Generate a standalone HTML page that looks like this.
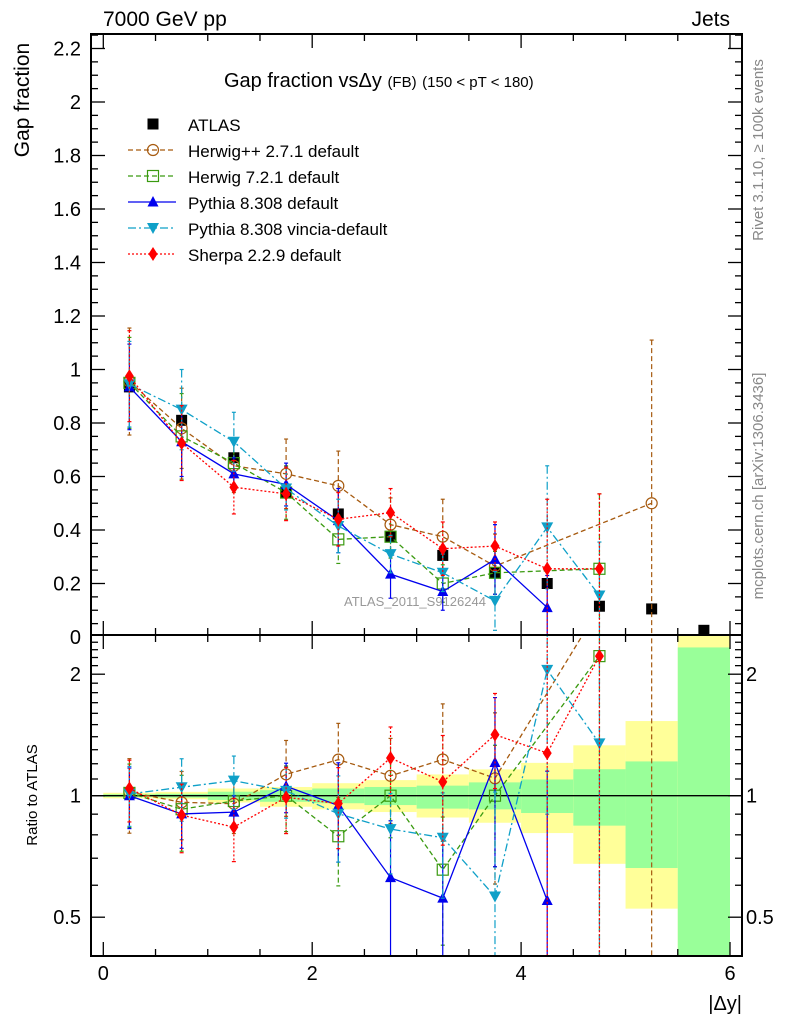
<!DOCTYPE html>
<html><head><meta charset="utf-8"><style>
html,body{margin:0;padding:0;background:#fff;width:786px;height:1024px;overflow:hidden;position:relative;}
svg{display:block;font-family:"Liberation Sans",sans-serif;}
</style></head><body>
<svg id="c" width="786" height="1024" viewBox="0 0 786 1024" style="position:absolute;left:0;top:0"></svg>
<script>
const bins=[0.25,0.75,1.25,1.75,2.25,2.75,3.25,3.75,4.25,4.75,5.25,5.75];
const atlasVals=[0.935,0.81,0.67,0.54,0.46,0.375,0.305,0.24,0.2,0.115,0.105,0.025];
const bandYelHi=[1.017,1.022,1.042,1.051,1.074,1.093,1.129,1.162,1.206,1.333,1.531,2.7];
const bandYelLo=[0.985,0.980,0.962,0.939,0.925,0.911,0.883,0.857,0.808,0.678,0.525,0.2];
const bandGrnHi=[1.008,1.011,1.023,1.032,1.042,1.051,1.059,1.079,1.097,1.163,1.216,2.33];
const bandGrnLo=[0.993,0.989,0.976,0.966,0.958,0.948,0.929,0.925,0.906,0.843,0.662,0.2];
const hwppVals=[0.955,0.78,0.64,0.61,0.565,0.42,0.375,0.265,null,null,0.5];
const hwppErr=[0.2,0.15,0.1,0.13,0.13,0.1,0.14,0.12,0,0,0.61];
const hw7Vals=[0.95,0.75,0.65,0.54,0.365,0.375,0.2,0.24,null,0.255];
const hw7Err=[0.17,0.16,0.08,0.1,0.09,0.08,0.07,0.08,0,0.28];
const py8Vals=[0.935,0.73,0.61,0.57,0.435,0.235,0.17,0.29,0.11];
const py8Err=[0.16,0.13,0.06,0.08,0.12,0.09,0.07,0.13,0.12];
const vinVals=[0.945,0.85,0.73,0.555,0.415,0.31,0.24,0.135,0.41,0.155];
const vinErr=[0.16,0.15,0.11,0.08,0.1,0.07,0.07,0.11,0.23,0.2];
const shVals=[0.975,0.725,0.56,0.535,0.44,0.465,0.33,0.34,0.255,0.255];
const shErr=[0.17,0.14,0.1,0.1,0.1,0.09,0.1,0.09,0.26,0.28];
const yTicks=[0,0.2,0.4,0.6,0.8,1,1.2,1.4,1.6,1.8,2,2.2];
const xTicks=[0,2,4,6];
const rTicks=[0.5,1,2];

const NS="http://www.w3.org/2000/svg";
const svg=document.getElementById('c');
const L=91,R=742,T=34,MID=635,B=956;
const X=v=>103.3+104.45*v;
const Y=v=>637-267.5*v;
const RY=r=>795.7-121.5*Math.log2(r);
function el(t,a,p){const e=document.createElementNS(NS,t);for(const k in a)e.setAttribute(k,a[k]);(p||svg).appendChild(e);return e;}
function txt(s,a,p){const e=el('text',a,p);e.textContent=s;return e;}

const defs=el('defs',{});
const cp1=el('clipPath',{id:'c1'},defs);el('rect',{x:L,y:T,width:R-L,height:MID-T},cp1);
const cp2=el('clipPath',{id:'c2'},defs);el('rect',{x:L,y:MID,width:R-L,height:B-MID},cp2);

const gBand=el('g',{'clip-path':'url(#c2)'});


bins.forEach((b,i)=>{
  const r1=el('rect',{x:X(b-0.25),width:X(0.5)-X(0),y:RY(bandYelHi[i]),height:RY(bandYelLo[i])-RY(bandYelHi[i]),fill:'#ffff99'},gBand);
  
  
  const r2=el('rect',{x:X(b-0.25),width:X(0.5)-X(0),y:RY(bandGrnHi[i]),height:RY(bandGrnLo[i])-RY(bandGrnHi[i]),fill:'#99ff99'},gBand);
  
  
});
el('line',{x1:L,x2:R,y1:RY(1),y2:RY(1),stroke:'#000','stroke-width':1.3});

function marker(g,type,x,y,col){
  const s=5.5;
  if(type==='circle')return el('circle',{cx:x,cy:y,r:s,fill:'none',stroke:col,'stroke-width':1.2},g);
  if(type==='square')return el('rect',{x:x-s,y:y-s,width:2*s,height:2*s,fill:'none',stroke:col,'stroke-width':1.2},g);
  if(type==='up')return el('polygon',{points:`${x},${y-6} ${x-5.5},${y+4.5} ${x+5.5},${y+4.5}`,fill:col},g);
  if(type==='down')return el('polygon',{points:`${x},${y+6} ${x-6},${y-5} ${x+6},${y-5}`,fill:col},g);
  if(type==='diamond')return el('polygon',{points:`${x},${y-7} ${x-4.5},${y} ${x},${y+7} ${x+4.5},${y}`,fill:col},g);
  if(type==='fsquare')return el('rect',{x:x-5.5,y:y-5.5,width:11,height:11,fill:col},g);
}
const series=[
 {name:'herwigpp',vals:hwppVals,err:hwppErr,col:'#a65a0f',dash:'5,3',m:'circle',label:'Herwig++ 2.7.1 default'},
 {name:'herwig7',vals:hw7Vals,err:hw7Err,col:'#3a9a10',dash:'5,3',m:'square',label:'Herwig 7.2.1 default'},
 {name:'pythia8',vals:py8Vals,err:py8Err,col:'#0000ee',dash:'',m:'up',label:'Pythia 8.308 default'},
 {name:'vincia',vals:vinVals,err:vinErr,col:'#0fa0c8',dash:'8,3,2,3',m:'down',label:'Pythia 8.308 vincia-default'},
 {name:'sherpa',vals:shVals,err:shErr,col:'#ff0000',dash:'2,2',m:'diamond',label:'Sherpa 2.2.9 default'}
];
function drawSeries(s,ratio){
  const g=el('g',{'clip-path':ratio?'url(#c2)':'url(#c1)'});
  
  
  const yf=ratio?(v,i)=>RY(v/atlasVals[i]):(v)=>Y(v);
  const pts=[];
  s.vals.forEach((v,i)=>{if(v!==null)pts.push([X(bins[i]),yf(v,i)]);});
  el('polyline',{points:pts.map(p=>p.join(',')).join(' '),fill:'none',stroke:s.col,'stroke-width':1.3,'stroke-dasharray':s.dash},g);
  s.vals.forEach((v,i)=>{
    if(v===null)return;
    const hi=v+s.err[i],lo=Math.max(v-s.err[i],0.001);
    const x=X(bins[i]);
    const y1=yf(hi,i),y2=yf(lo,i);
    el('line',{x1:x,x2:x,y1:y1,y2:y2,stroke:s.col,'stroke-width':1.2,'stroke-dasharray':s.dash},g);
    el('line',{x1:x-2,x2:x+2,y1:y1,y2:y1,stroke:s.col,'stroke-width':1.2},g);
    el('line',{x1:x-2,x2:x+2,y1:y2,y2:y2,stroke:s.col,'stroke-width':1.2},g);
    const mk=marker(g,s.m,x,yf(v,i),s.col);
    
    
  });
}
const ga=el('g',{'clip-path':'url(#c1)'});


atlasVals.forEach((v,i)=>{
  const mk=marker(ga,'fsquare',X(bins[i]),Y(v),'#000');
  
  
});
series.forEach(s=>drawSeries(s,false));
series.forEach(s=>drawSeries(s,true));

el('rect',{x:L,y:T,width:R-L,height:MID-T,fill:'none',stroke:'#000','stroke-width':2});
el('rect',{x:L,y:MID,width:R-L,height:B-MID,fill:'none',stroke:'#000','stroke-width':2});

for(let k=0;k<=45;k++){
  const v=k*0.05;const y=Y(v);if(y<T||y>MID)continue;
  const major=(k%4===0);const len=major?14:7;
  el('line',{x1:L,x2:L+len,y1:y,y2:y,stroke:'#000','stroke-width':1.3});
  el('line',{x1:R,x2:R-len,y1:y,y2:y,stroke:'#000','stroke-width':1.3});
}
yTicks.forEach(v=>{const t=txt(String(v),{x:81,y:Y(v)+7,'font-size':20,'text-anchor':'end'});
  });
for(let k=0;k<=12;k++){
  const v=k*0.5;const x=X(v);const major=(k%4===0);const len=major?14:7;
  [T,MID].forEach(y0=>el('line',{x1:x,x2:x,y1:y0,y2:y0+len,stroke:'#000','stroke-width':1.3}));
  [MID,B].forEach(y0=>el('line',{x1:x,x2:x,y1:y0,y2:y0-len,stroke:'#000','stroke-width':1.3}));
}
xTicks.forEach(v=>{const t=txt(String(v),{x:X(v),y:980,'font-size':20,'text-anchor':'middle'});
  });
for(let k=4;k<=25;k++){
  const r=k/10;const y=RY(r);if(y<MID||y>B)continue;
  const major=(k===5||k===10||k===20);const len=major?14:7;
  el('line',{x1:L,x2:L+len,y1:y,y2:y,stroke:'#000','stroke-width':1.3});
  el('line',{x1:R,x2:R-len,y1:y,y2:y,stroke:'#000','stroke-width':1.3});
}
rTicks.forEach(r=>{
  const a=txt(String(r),{x:81,y:RY(r)+7,'font-size':20,'text-anchor':'end'});
  
  const b=txt(String(r),{x:746,y:RY(r)+7,'font-size':20});
  
});

const lg=el('g',{});


marker(lg,'fsquare',153,124,'#000');
txt('ATLAS',{x:188,y:131,'font-size':17},lg);
series.forEach((s,i)=>{
  const y=150+i*26;
  el('line',{x1:128,x2:176,y1:y,y2:y,stroke:s.col,'stroke-width':1.3,'stroke-dasharray':s.dash},lg);
  marker(lg,s.m,153,y,s.col);
  const t=txt(s.label,{x:188,y:y+7,'font-size':17},lg);
  
});
</script>
<svg width="786" height="1024" style="position:absolute;left:0;top:0" font-family="Liberation Sans, sans-serif">
<text x="103" y="26" font-size="21">7000 GeV pp</text>
<text x="730" y="26" font-size="21" text-anchor="end">Jets</text>
<text x="224" y="87" font-size="20">Gap fraction vs<tspan>Δy</tspan> <tspan font-size="15">(FB)</tspan> <tspan font-size="15">(150 &lt; pT &lt; 180)</tspan></text>
<text transform="translate(29,100) rotate(-90)" font-size="21" text-anchor="middle">Gap fraction</text>
<text transform="translate(37,795) rotate(-90)" font-size="15" text-anchor="middle">Ratio to ATLAS</text>
<text x="742" y="1010" font-size="20" text-anchor="end">|Δy|</text>
<text x="415" y="606" font-size="13" fill="#999" text-anchor="middle">ATLAS_2011_S9126244</text>
<text transform="translate(763,150) rotate(-90)" font-size="15" fill="#888" text-anchor="middle">Rivet 3.1.10, ≥ 100k events</text>
<text transform="translate(763,486) rotate(-90)" font-size="15" fill="#888" text-anchor="middle">mcplots.cern.ch [arXiv:1306.3436]</text>
</svg>
</body></html>
